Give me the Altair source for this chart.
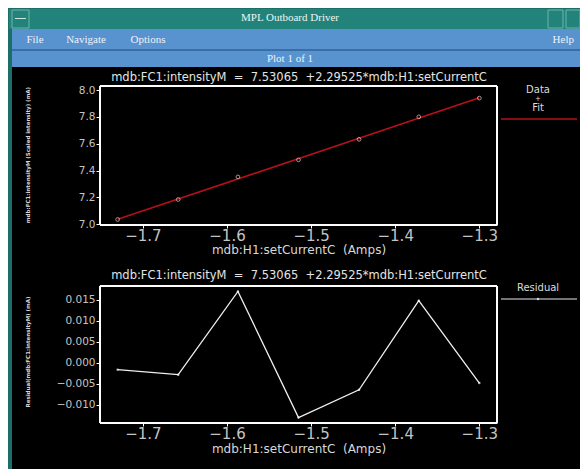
import altair as alt
import pandas as pd

# ---- data ----
current = [-1.730, -1.658, -1.587, -1.515, -1.443, -1.372, -1.300]
intensity = [7.036, 7.185, 7.353, 7.480, 7.633, 7.800, 7.940]
residual = [-0.0016, -0.0028, 0.0170, -0.0130, -0.0064, 0.0148, -0.0048]

x_ticks = [-1.7, -1.6, -1.5, -1.4, -1.3]
y_top_ticks = [7.0, 7.2, 7.4, 7.6, 7.8, 8.0]
y_bot_ticks = [-0.010, -0.005, 0.000, 0.005, 0.010, 0.015]

NB = "\u00a0"
eq_title = f"mdb:FC1:intensityM{NB}{NB}={NB}{NB}7.53065{NB}{NB}+2.29525*mdb:H1:setCurrentC"
x_title = f"mdb:H1:setCurrentC{NB}{NB}(Amps)"
y_top_title = "mdb:FC1:intensityM (Scaled intensity) (mA)"
y_bot_title = "Residual(mdb:FC1:intensityM) (mA)"

df = pd.DataFrame({"current": current, "intensity": intensity, "residual": residual})

W, H = 580, 469
FONT = "DejaVu Sans"
SERIF = "Liberation Serif"
LABEL = "#c4c4c4"

X_DOMAIN = [-1.751, -1.279]
X_RANGE = [100, 497]
TOP_Y_DOMAIN = [6.995, 8.03]
TOP_Y_RANGE = [225, 86]
BOT_Y_DOMAIN = [-0.0143, 0.0183]
BOT_Y_RANGE = [423, 286]


def rect(x, x2, y, y2, fill=None, stroke=None, sw=1):
    kw = {}
    if fill:
        kw["fill"] = fill
    else:
        kw["fillOpacity"] = 0
    if stroke:
        kw["stroke"] = stroke
        kw["strokeWidth"] = sw
    return alt.Chart().mark_rect(**kw).encode(
        x=alt.value(x), x2=alt.value(x2), y=alt.value(y), y2=alt.value(y2)
    )


def text(t, x, y, size=11, font=FONT, color="#e8e8e8", align="center", angle=0, weight="normal"):
    return alt.Chart().mark_text(
        text=t, font=font, fontSize=size, color=color, align=align,
        baseline="middle", angle=angle, fontWeight=weight
    ).encode(x=alt.value(x), y=alt.value(y))


# ---- window chrome ----
chrome = [
    rect(8, W, 8, H, fill="#1d6e68"),
    rect(9, W, 9, 29, fill="#22837a"),
    rect(12, 29, 10, 28, stroke="#6db3a9"),
    rect(15, 26, 18, 19, fill="#cde6e2"),
    rect(548, 563, 10, 28, stroke="#6db3a9"),
    rect(566, W, 10, 28, stroke="#6db3a9"),
    rect(12, W, 29, 49, fill="#5892cf"),
    rect(12, W, 49, 51, fill="#3a6ea6"),
    rect(12, W, 51, 67, fill="#5892cf"),
    rect(12, W, 67, H, fill="black"),
    text("MPL Outboard Driver", 290, 18, size=11, font=SERIF, color="#eef5f3"),
    text("File", 35, 40, size=11, font=SERIF, color="#eef3fa"),
    text("Navigate", 86, 40, size=11, font=SERIF, color="#eef3fa"),
    text("Options", 148, 40, size=11, font=SERIF, color="#eef3fa"),
    text("Help", 574, 40, size=11, font=SERIF, color="#eef3fa", align="right"),
    text("Plot 1 of 1", 290, 59, size=11, font=SERIF, color="#eef3fa"),
]

axis_common = dict(
    domainColor="white", tickColor="white", labelColor=LABEL, labelFont=FONT,
    grid=False, title=None, domainWidth=1, tickWidth=1, zindex=1,
)


def x_enc(offset):
    return alt.X(
        "current:Q",
        scale=alt.Scale(domain=X_DOMAIN, range=X_RANGE, nice=False, zero=False),
        axis=alt.Axis(orient="bottom", offset=offset, values=x_ticks, format=".1f",
                      labelFontSize=15, labelPadding=0, tickSize=3, **axis_common),
    )


# ---- top plot: data + fit ----
ytop = alt.Scale(domain=TOP_Y_DOMAIN, range=TOP_Y_RANGE, nice=False, zero=False)
top_base = alt.Chart(df)
top_frame = alt.Chart(df).mark_rect(fillOpacity=0, stroke="white", strokeWidth=1).encode(
    x=alt.datum(X_DOMAIN[0]), x2=alt.datum(X_DOMAIN[1]),
    y=alt.datum(TOP_Y_DOMAIN[0], scale=ytop), y2=alt.datum(TOP_Y_DOMAIN[1]),
)
top_fit = top_base.transform_regression("current", "intensity").mark_line(
    color="#b3121b", strokeWidth=1.6
).encode(
    x=x_enc(-(H - 225)),
    y=alt.Y("intensity:Q", scale=ytop,
            axis=alt.Axis(orient="left", offset=-100, values=y_top_ticks, format=".1f",
                          labelFontSize=10.5, tickSize=4, labelPadding=1, **axis_common)),
)
top_pts = top_base.mark_point(shape="circle", size=14, color="#f2d0d0", strokeWidth=1, filled=False).encode(
    x="current:Q", y="intensity:Q"
)
top = alt.layer(top_fit, top_frame, top_pts)

# ---- bottom plot: residual ----
ybot = alt.Scale(domain=BOT_Y_DOMAIN, range=BOT_Y_RANGE, nice=False, zero=False)
bot_frame = alt.Chart(df).mark_rect(fillOpacity=0, stroke="white", strokeWidth=1).encode(
    x=alt.datum(X_DOMAIN[0]), x2=alt.datum(X_DOMAIN[1]),
    y=alt.datum(BOT_Y_DOMAIN[0], scale=ybot), y2=alt.datum(BOT_Y_DOMAIN[1]),
)
bot_line = alt.Chart(df).mark_line(color="#f0f0f0", strokeWidth=1.3).encode(
    x=x_enc(-(H - 423)),
    y=alt.Y("residual:Q", scale=ybot,
            axis=alt.Axis(orient="left", offset=-100, values=y_bot_ticks, format=".3f",
                          labelFontSize=10.5, tickSize=4, labelPadding=1, **axis_common)),
)
bot_pts = alt.Chart(df).mark_point(shape="circle", size=6, color="white", filled=True).encode(
    x="current:Q", y="residual:Q"
)
bottom = alt.layer(bot_line, bot_frame, bot_pts)

# ---- titles & legends ----
annot = [
    text(eq_title, 299, 78, size=11.5, color="#e4e4e4"),
    text(eq_title, 299, 276, size=11.5, color="#e4e4e4"),
    text(x_title, 299, 250, size=12, color="#d8d8d8"),
    text(x_title, 299, 449, size=12, color="#d8d8d8"),
    text(y_top_title, 28, 155, size=5.5, angle=270, color="#d8d8d8", weight="bold"),
    text(y_bot_title, 28, 352, size=5.5, angle=270, color="#d8d8d8", weight="bold"),
    text("Data", 538, 90, size=10, color="#dcdcdc"),
    text("+", 538, 99, size=7, color="#dcdcdc"),
    text("Fit", 538, 108, size=10, color="#dcdcdc"),
    alt.Chart().mark_rule(color="#b3121b", strokeWidth=1.6).encode(
        x=alt.value(501), x2=alt.value(577), y=alt.value(119)),
    text("Residual", 538, 288, size=10, color="#dcdcdc"),
    alt.Chart().mark_rule(color="#e8e8e8", strokeWidth=1.2).encode(
        x=alt.value(501), x2=alt.value(577), y=alt.value(299)),
    alt.Chart().mark_point(shape="circle", size=6, color="white", filled=True).encode(
        x=alt.value(538), y=alt.value(299)),
]

chart = alt.layer(*chrome, top, bottom, *annot).resolve_scale(
    x="independent", y="independent"
).resolve_axis(x="independent", y="independent").properties(
    width=W, height=H, autosize=alt.AutoSizeParams(type="none"), padding=0,
    background="white",
).configure_view(stroke=None)

chart.save("out.html", embed_options={"renderer": "svg", "actions": False})
